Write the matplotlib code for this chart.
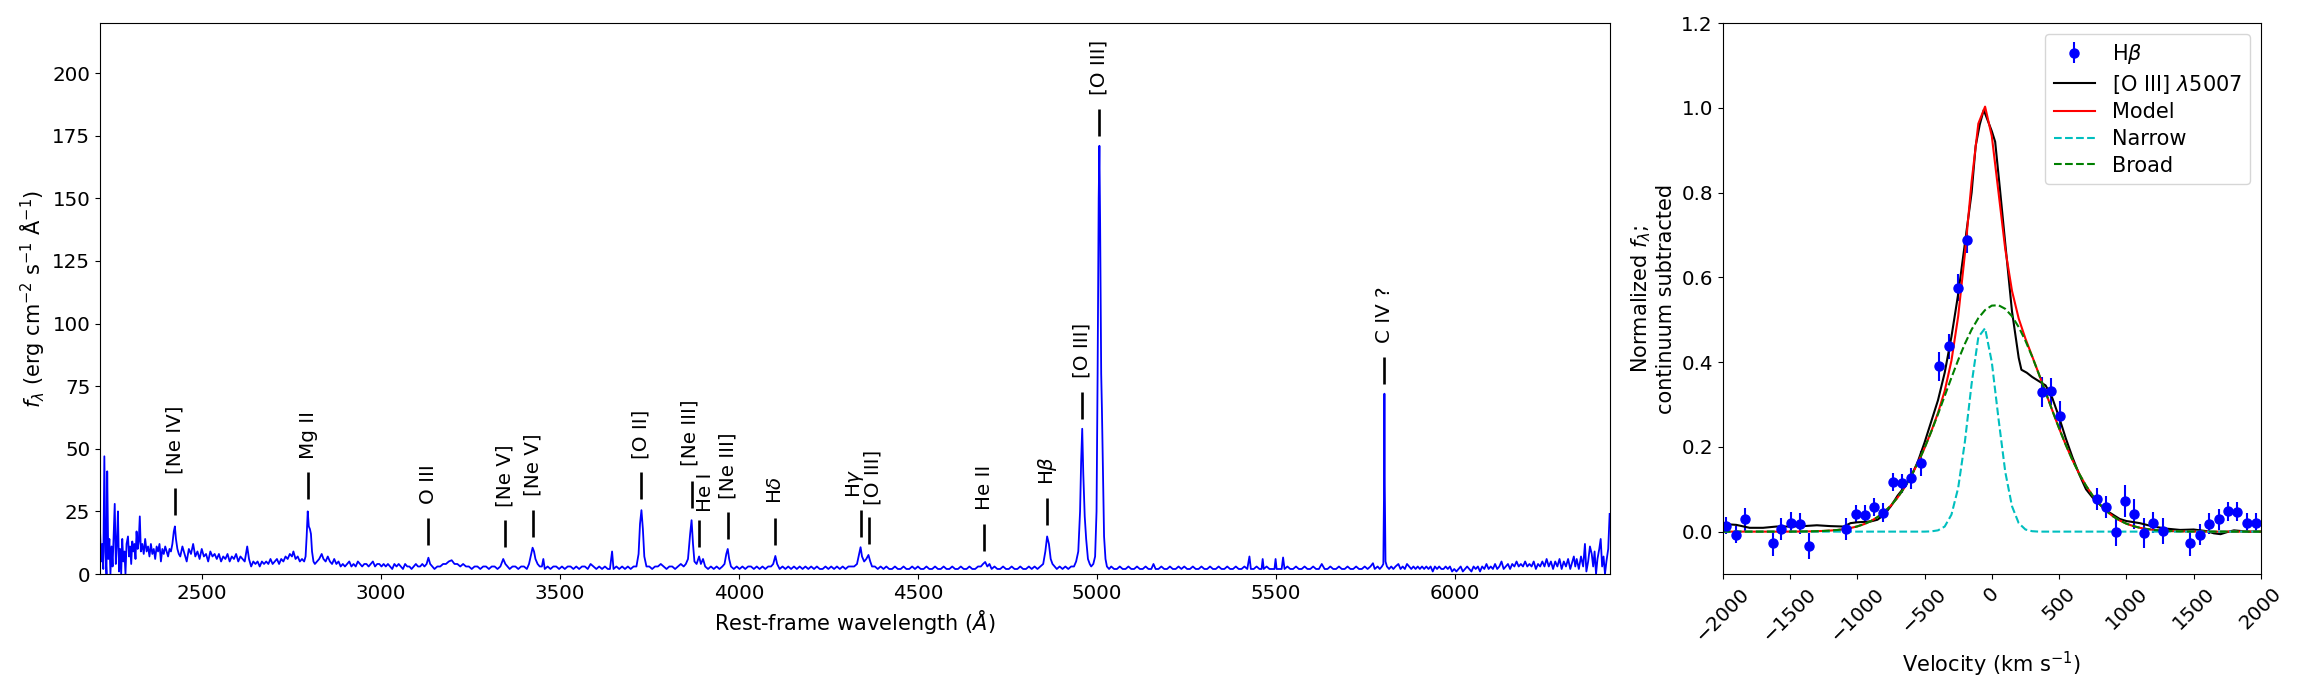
import numpy as np
import matplotlib
matplotlib.use('Agg')
import matplotlib.pyplot as plt

plt.rcParams['font.size'] = 14.3
plt.rcParams['axes.labelsize'] = 15
plt.rcParams['mathtext.fontset'] = 'dejavusans'

# ---- spectrum (rest-frame) in pieces ----
wave_blue = [2216, 2219, 2222, 2225, 2228, 2231, 2234, 2236, 2239, 2242,
             2245, 2248, 2251, 2254, 2257, 2260, 2263, 2266, 2269, 2272,
             2275, 2278, 2281, 2284, 2287, 2290, 2294, 2297, 2300, 2303,
             2306, 2309, 2312, 2315, 2318, 2321, 2324, 2327, 2330, 2334,
             2338, 2342, 2346, 2350, 2354, 2358, 2362, 2366, 2370, 2374,
             2378, 2382, 2386, 2390, 2394, 2398, 2402, 2406, 2410, 2414,
             2418, 2422, 2425, 2428, 2432, 2436, 2440]
flux_blue = [17, 5, 12, 2, 47, 9, 0, 41, 6, 14,
             0, 11, 3, 15, 28, 4, 12, 25, 1, 10,
             0, 14, 5, 9, 0, 12, 15, 7, 11, 4,
             13, 9, 12, 6, 17, 10, 13, 23, 9, 12,
             8, 14, 9, 11, 7, 12, 8, 10, 6, 11,
             9, 12, 5, 10, 8, 11, 9, 7, 10, 9,
             12, 17, 19, 14, 10, 8, 7]

wave_nuv = [2446, 2452, 2458, 2464, 2470, 2476, 2482, 2488, 2494, 2500,
            2506, 2512, 2518, 2524, 2530, 2536, 2542, 2548, 2554, 2560,
            2566, 2572, 2578, 2584, 2590, 2596, 2602, 2608, 2614, 2620,
            2627, 2632, 2638, 2644, 2650, 2656, 2662, 2668, 2674, 2680,
            2686, 2692, 2698, 2704, 2710, 2716, 2722, 2728, 2734, 2740,
            2746, 2752, 2756, 2762, 2768, 2774, 2780, 2786, 2790]
flux_nuv = [11, 8, 5, 10, 8, 12, 7, 9, 6, 10,
            7, 8, 5, 9, 7, 8, 6, 8, 5, 7,
            6, 8, 5, 7, 6, 8, 5, 7, 6, 5,
            11, 6, 3, 5, 4, 5, 3, 5, 4, 5,
            4, 6, 4, 5, 6, 4, 6, 5, 7, 6,
            8, 7, 9, 6, 7, 5, 6, 5, 7]

wave_mid1 = [2793, 2796, 2799, 2802, 2805, 2808, 2812, 2816, 2822, 2828,
             2835, 2840, 2846, 2852, 2858, 2864, 2870, 2876, 2882, 2888,
             2894, 2900, 2906, 2912, 2918, 2924, 2930, 2936, 2942, 2948,
             2954, 2960, 2966, 2972, 2978, 2984, 2990, 2996, 3002, 3008,
             3014, 3020, 3026, 3032, 3038, 3044, 3050, 3056, 3062, 3068,
             3074, 3080, 3086, 3092, 3098, 3104, 3110, 3116, 3122, 3128,
             3133, 3138, 3144, 3150, 3158, 3166, 3174, 3182, 3190, 3198,
             3206, 3214, 3222, 3230, 3238, 3246, 3254, 3262, 3270, 3278,
             3286, 3294, 3302, 3310, 3318, 3326, 3334, 3342, 3348, 3354,
             3360, 3368, 3376, 3384, 3392, 3400, 3408, 3414, 3420, 3424,
             3428, 3432, 3438, 3444, 3450, 3454, 3458, 3466]
flux_mid1 = [15, 25, 19, 18, 16, 9, 5, 4, 5, 6,
             8, 6, 5, 7, 5, 4, 6, 4, 5, 3,
             4, 3, 4, 5, 3, 4, 3, 5, 4, 3,
             4, 4, 3, 4, 5, 3, 4, 4, 3, 4,
             3, 4, 3, 2, 4, 3, 4, 3, 2, 4,
             3, 3, 2, 3, 4, 3, 3, 4, 3, 4,
             6.5, 4, 3, 2, 3, 3, 4, 4, 5, 5.5,
             4, 4, 3, 4, 3, 3, 2, 3, 3, 2,
             3, 3, 2, 3, 3, 2, 3, 6, 4, 3,
             2, 3, 3, 2, 3, 3, 2, 4, 8, 10.5,
             9, 6, 4, 3, 3, 6, 2, 3]

wave_mid2 = [3474, 3482, 3490, 3498, 3506, 3514, 3522, 3530, 3538, 3546,
             3554, 3562, 3570, 3578, 3586, 3594, 3602, 3610, 3618, 3626,
             3634, 3640, 3646, 3650, 3658, 3666, 3674, 3682, 3690, 3698,
             3706, 3714, 3720, 3724, 3728, 3732, 3736, 3742, 3750, 3758,
             3766, 3774, 3782, 3790, 3798, 3806, 3814, 3822, 3830, 3838,
             3846, 3852, 3858, 3864, 3868, 3872, 3876, 3882, 3889, 3894,
             3900, 3906, 3914, 3922, 3930, 3938, 3946, 3954, 3960, 3965,
             3969, 3973, 3978, 3986, 3994, 4002, 4010, 4018, 4026, 4034,
             4042, 4050, 4058, 4066, 4074, 4082, 4090, 4096, 4102, 4107,
             4114, 4122, 4130, 4138, 4146, 4154, 4162, 4170, 4178, 4186,
             4194, 4202, 4210, 4218, 4226, 4234, 4242, 4250, 4258, 4266,
             4274, 4282, 4290, 4298, 4306, 4314, 4322, 4330, 4336, 4340,
             4344, 4350, 4356, 4362, 4367, 4372, 4380, 4388, 4396, 4404]
flux_mid2 = [2, 3, 3, 2, 3, 2, 3, 3, 2, 3,
             2, 3, 3, 2, 4, 3, 2, 3, 2, 3,
             2, 2, 9, 2, 3, 2, 3, 2, 3, 2,
             3, 3, 8, 20, 25.5, 18, 7, 3, 3, 2,
             3, 3, 4, 3, 2, 3, 3, 2, 3, 4,
             3, 4, 6, 16, 21.5, 12, 5, 4, 7, 4,
             6, 3, 2, 3, 2, 3, 2, 3, 4, 8,
             10, 6, 3, 2, 3, 2, 3, 2, 3, 3,
             2, 3, 2, 3, 2, 3, 3, 4, 7.2, 4,
             2, 3, 2, 3, 2, 3, 2, 3, 2, 3,
             2, 3, 2, 3, 2, 2, 3, 2, 3, 2,
             3, 2, 3, 2, 3, 3, 3, 4, 8, 10.7,
             7, 5, 6, 7.6, 5, 3, 3, 2, 3, 2]

wave_hb = [4412, 4420, 4428, 4436, 4444, 4452, 4460, 4468, 4476, 4484,
           4492, 4500, 4508, 4516, 4524, 4532, 4540, 4548, 4556, 4564,
           4572, 4580, 4588, 4596, 4604, 4612, 4620, 4628, 4636, 4644,
           4652, 4660, 4668, 4676, 4682, 4688, 4694, 4700, 4706, 4714,
           4722, 4730, 4738, 4746, 4754, 4762, 4770, 4778, 4786, 4794,
           4802, 4810, 4818, 4826, 4834, 4842, 4850, 4856, 4861, 4866,
           4871, 4876, 4882, 4888, 4896, 4904, 4912, 4920, 4928, 4936,
           4942, 4948, 4953, 4956, 4959, 4962, 4966, 4970, 4975, 4980,
           4984, 4990, 4995, 4999, 5002, 5005, 5007, 5009, 5012, 5014,
           5017, 5020, 5024, 5028, 5034]
flux_hb = [3, 2, 2, 3, 2, 2, 3, 2, 2, 3,
           2, 3, 2, 2, 3, 2, 2, 3, 2, 2,
           3, 2, 2, 3, 2, 2, 3, 2, 2, 3,
           2, 2, 3, 3, 4, 4.8, 3, 4, 2, 3,
           2, 2, 3, 2, 2, 3, 2, 2, 3, 2,
           2, 3, 2, 3, 2, 3, 4, 9, 15, 12,
           6, 4, 3, 2, 3, 2, 3, 2, 3, 3,
           5, 9, 25, 45, 58, 40, 23, 14, 6, 4,
           3, 4, 7, 25, 80, 150, 171, 140, 80, 66,
           40, 15, 6, 3, 2]

wave_red = [5040, 5048, 5056, 5064, 5072, 5080, 5088, 5096, 5104, 5112,
            5120, 5128, 5136, 5144, 5152, 5158, 5164, 5172, 5180, 5188,
            5196, 5204, 5212, 5220, 5228, 5236, 5244, 5252, 5260, 5268,
            5276, 5284, 5292, 5300, 5308, 5316, 5324, 5332, 5340, 5348,
            5356, 5364, 5372, 5380, 5388, 5396, 5404, 5412, 5420, 5426,
            5430, 5438, 5446, 5454, 5460, 5463, 5466, 5474, 5482, 5490,
            5496, 5499, 5502, 5510, 5516, 5520, 5524, 5532, 5540, 5548,
            5556, 5564, 5572, 5580, 5588, 5596, 5604, 5612, 5620, 5628,
            5636, 5644, 5652, 5660, 5668, 5676, 5684, 5692, 5700, 5708,
            5716, 5724, 5732, 5740, 5748, 5756, 5764, 5771, 5776, 5784,
            5790, 5796, 5800, 5802, 5803, 5804, 5806, 5810, 5816, 5822,
            5828, 5834, 5842, 5848, 5854, 5860, 5866, 5872, 5878, 5884,
            5890, 5896, 5902, 5908, 5914, 5920, 5926, 5932, 5938, 5944,
            5950, 5956, 5962, 5968, 5974, 5980, 5986, 5992, 5998]
flux_red = [3, 2, 2, 3, 2, 2, 3, 2, 2, 3,
            2, 2, 3, 2, 2, 4, 2, 2, 3, 2,
            2, 3, 2, 2, 3, 2, 3, 2, 2, 3,
            2, 2, 3, 2, 2, 3, 2, 2, 3, 2,
            2, 3, 2, 2, 3, 2, 2, 3, 2, 7,
            2, 2, 3, 2, 2, 6, 2, 3, 2, 2,
            2, 6, 2, 2, 2, 6.6, 2, 3, 2, 2,
            3, 2, 2, 3, 2, 2, 3, 2, 2, 4,
            2, 2, 3, 2, 2, 3, 2, 2, 3, 2,
            2, 3, 2, 2, 3, 2, 3, 4.3, 2, 3,
            2, 3, 4, 35, 72, 35, 5, 3, 2, 3,
            2, 3, 4, 2, 3, 2, 4, 3, 2, 3,
            2, 3, 2, 3, 2, 3, 2, 3, 1, 3,
            2, 3, 2, 2, 3, 2, 3, 1, 2]

wave_end = [6004, 6010, 6016, 6022, 6028, 6034, 6040, 6046, 6052, 6058,
            6064, 6070, 6076, 6082, 6088, 6094, 6100, 6106, 6112, 6118,
            6124, 6130, 6136, 6142, 6148, 6154, 6160, 6166, 6172, 6178,
            6184, 6190, 6196, 6202, 6208, 6214, 6220, 6226, 6232, 6238,
            6244, 6250, 6256, 6262, 6268, 6274, 6280, 6286, 6292, 6298,
            6304, 6310, 6316, 6322, 6328, 6332, 6336, 6340, 6346, 6352,
            6358, 6363, 6367, 6372, 6377, 6382, 6386, 6390, 6394, 6398,
            6403, 6407, 6411, 6415, 6419, 6423, 6428, 6432]
flux_end = [1, 2, 3, 1, 2, 3, 2, 1, 3, 2,
            3, 1, 3, 2, 4, 2, 3, 2, 4, 2,
            3, 5, 2, 3, 4, 2, 4, 3, 5, 3,
            4, 3, 5, 3, 4, 3, 5, 2, 4, 3,
            5, 3, 6, 3, 5, 2, 5, 3, 6, 2,
            5, 3, 6, 2, 5, 7, 3, 6, 2, 7,
            3, 12, 1, 5, 11, 8, 3, 9, 0, 6,
            10, 14, 3, 7, 0, 5, 10, 24]

# line identifications
line_names = ['[Ne IV]', 'Mg II', 'O III', '[Ne V]', '[Ne V]', '[O II]',
              '[Ne III]', 'He I', '[Ne III]', r'H$\delta$', r'H$\gamma$',
              '[O III]', 'He II', r'H$\beta$', '[O III]', '[O III]', 'C IV ?']
line_waves = [2424, 2798, 3133, 3347, 3426, 3728, 3868, 3890, 3969, 4102,
              4341, 4363, 4686, 4862, 4959, 5007, 5803]
line_ylevel = [23.6, 29.8, 11.6, 10.7, 14.9, 29.9, 26.5, 10.9, 13.9, 11.6,
               14.9, 12.0, 9.3, 19.5, 62, 175, 76]
# small nudges of the label text where neighbours crowd (angstrom, flux units)
text_nudge_x = [0, 0, 0, 0, 0, 0, -5, 17, 0, 0, -16, 11, 0, 0, 0, 0, 0]
text_nudge_y = [0, 0, 0, 0, 0, 0, 0.5, -2.4, 0, 0, -0.6, -0.6, 0, 0, 0, 0, 0]

# ---- H-beta / [O III] velocity profiles ----
hb_vel = [-1973, -1903, -1836, -1629, -1563, -1492, -1422, -1356, -1082, -1012,
          -942, -872, -805, -738, -664, -598, -528, -391, -321, -254,
          -184, 371, 437, 508, 781, 851, 922, 992, 1059, 1129,
          1199, 1269, 1476, 1546, 1616, 1686, 1756, 1823, 1893, 1963]
hb_flux = [0.014, -0.007, 0.029, -0.028, 0.006, 0.021, 0.019, -0.034, 0.006, 0.042,
           0.040, 0.058, 0.045, 0.117, 0.114, 0.126, 0.161, 0.390, 0.437, 0.576,
           0.687, 0.329, 0.331, 0.273, 0.077, 0.058, 0.000, 0.072, 0.042, -0.004,
           0.021, 0.001, -0.028, -0.007, 0.019, 0.029, 0.048, 0.047, 0.021, 0.021]
hb_err = [0.02, 0.02, 0.027, 0.03, 0.025, 0.025, 0.025, 0.03, 0.025, 0.022,
          0.022, 0.022, 0.022, 0.022, 0.022, 0.025, 0.03, 0.035, 0.03, 0.032,
          0.03, 0.035, 0.032, 0.035, 0.025, 0.025, 0.035, 0.038, 0.035, 0.035,
          0.025, 0.03, 0.03, 0.025, 0.025, 0.025, 0.022, 0.022, 0.022, 0.022]

oiii_vel = [-2000, -1900, -1800, -1700, -1600, -1500, -1400, -1300, -1200, -1100,
            -1050, -1000, -900, -850, -800, -750, -700, -650, -600, -550,
            -500, -450, -400, -350, -300, -250, -200, -150, -120, -90,
            -60, -30, 0, 25, 60, 100, 150, 200, 220, 260,
            300, 350, 400, 450, 500, 550, 600, 650, 700, 750,
            800, 850, 900, 950, 1000, 1100, 1200, 1300, 1400, 1500,
            1600, 1650, 1700, 1750, 1800, 1900, 2000]
oiii_flux = [0.018, 0.016, 0.009, 0.009, 0.012, 0.012, 0.013, 0.015, 0.013, 0.012,
             0.020, 0.022, 0.024, 0.028, 0.040, 0.060, 0.085, 0.105, 0.130, 0.165,
             0.210, 0.260, 0.310, 0.375, 0.460, 0.560, 0.680, 0.800, 0.910, 0.960,
             0.995, 0.970, 0.945, 0.920, 0.810, 0.680, 0.520, 0.410, 0.382, 0.375,
             0.365, 0.355, 0.345, 0.315, 0.270, 0.220, 0.175, 0.135, 0.100, 0.080,
             0.065, 0.050, 0.040, 0.030, 0.025, 0.020, 0.012, 0.007, 0.004, 0.005,
             0.001, -0.004, -0.006, -0.001, 0.003, 0.000, 0.000]

fit_vel = np.arange(-2000, 2001, 50)
narrow = [0.0, 0.0, 0.0, 0.0, 0.0, 0.0, 0.0, 0.0, 0.0, 0.0,
          0.0, 0.0, 0.0, 0.0, 0.0, 0.0, 0.0, 0.0, 0.0, 0.0,
          0.0, 0.0, 0.0, 0.0, 0.0, 0.0, 0.0, 0.0, 0.0, 0.0,
          0.0, 0.0006, 0.003, 0.012, 0.040, 0.103, 0.212, 0.349, 0.459, 0.480,
          0.400, 0.266, 0.141, 0.060, 0.020, 0.005, 0.001, 0.0, 0.0, 0.0,
          0.0, 0.0, 0.0, 0.0, 0.0, 0.0, 0.0, 0.0, 0.0, 0.0,
          0.0, 0.0, 0.0, 0.0, 0.0, 0.0, 0.0, 0.0, 0.0, 0.0,
          0.0, 0.0, 0.0, 0.0, 0.0, 0.0, 0.0, 0.0, 0.0, 0.0,
          0.0]
broad = [0.0, 0.0, 0.0, 0.0, 0.0, 0.0, 0.0, 0.0, 0.0, 0.0,
         0.0001, 0.0002, 0.0004, 0.0006, 0.0010, 0.0016, 0.0025, 0.0038, 0.0057, 0.0085,
         0.0123, 0.0176, 0.0247, 0.0341, 0.0462, 0.0615, 0.0804, 0.1034, 0.1305, 0.1618,
         0.1971, 0.2358, 0.2772, 0.3202, 0.3633, 0.4048, 0.4433, 0.4768, 0.5038, 0.5229,
         0.5333, 0.5342, 0.5257, 0.5083, 0.4827, 0.4504, 0.4129, 0.3717, 0.3288, 0.2857,
         0.2439, 0.2046, 0.1685, 0.1364, 0.1084, 0.0847, 0.0650, 0.0490, 0.0363, 0.0264,
         0.0188, 0.0132, 0.0091, 0.0062, 0.0041, 0.0027, 0.0017, 0.0011, 0.0007, 0.0004,
         0.0002, 0.0, 0.0, 0.0, 0.0, 0.0, 0.0, 0.0, 0.0, 0.0,
         0.0]
model = np.array(narrow) + np.array(broad)

wave = np.concatenate([wave_blue, wave_nuv, wave_mid1, wave_mid2, wave_hb, wave_red, wave_end])
flux = np.concatenate([flux_blue, flux_nuv, flux_mid1, flux_mid2, flux_hb, flux_red, flux_end])

fig = plt.figure(figsize=(23, 7), dpi=100)
ax1 = fig.add_axes([0.0435, 0.18, 0.6565, 0.787])
ax2 = fig.add_axes([0.749, 0.18, 0.234, 0.787])

# left: full spectrum
ax1.plot(wave, flux, color='b', lw=1.3)
bar_len = 10.8
ax1.vlines(line_waves, line_ylevel, np.array(line_ylevel) + bar_len, colors='k', lw=1.9)
for i, name in enumerate(line_names):
    ax1.text(line_waves[i] + text_nudge_x[i], line_ylevel[i] + bar_len + 5.4 + text_nudge_y[i],
             name, rotation=90, ha='center', va='bottom', fontsize=14.3)
ax1.set_xlim(2216, 6433)
ax1.set_ylim(0, 220)
ax1.set_yticks(np.arange(0, 201, 25))
ax1.set_xlabel(r'Rest-frame wavelength ($\AA$)')
ax1.set_ylabel(r'$f_\lambda$ (erg cm$^{-2}$ s$^{-1}$ Å$^{-1}$)')

# right: line profiles
ax2.errorbar(hb_vel, hb_flux, yerr=hb_err, fmt='o', color='b', ms=6.5, label=r'H$\beta$')
ax2.plot(oiii_vel, oiii_flux, 'k-', lw=1.5, label=r'[O III] $\lambda$5007')
ax2.plot(fit_vel, model, 'r-', lw=1.5, label='Model')
ax2.plot(fit_vel, narrow, 'c--', lw=1.5, label='Narrow')
ax2.plot(fit_vel, broad, 'g--', lw=1.5, label='Broad')
ax2.set_xlim(-2000, 2000)
ax2.set_ylim(-0.1, 1.2)
ax2.set_xticks(np.arange(-2000, 2001, 500))
ax2.set_yticks(np.arange(0, 1.21, 0.2))
plt.setp(ax2.get_xticklabels(), rotation=45)
ax2.set_xlabel(r'Velocity (km s$^{-1}$)')
ax2.set_ylabel('Normalized $f_\\lambda$;\ncontinuum subtracted')

handles, labels = ax2.get_legend_handles_labels()
order = [labels.index(r'H$\beta$')] + [k for k in range(len(labels)) if labels[k] != r'H$\beta$']
ax2.legend([handles[k] for k in order], [labels[k] for k in order],
           loc='upper right', fontsize=15, labelspacing=0.32)

plt.savefig('out.png', dpi=100)
